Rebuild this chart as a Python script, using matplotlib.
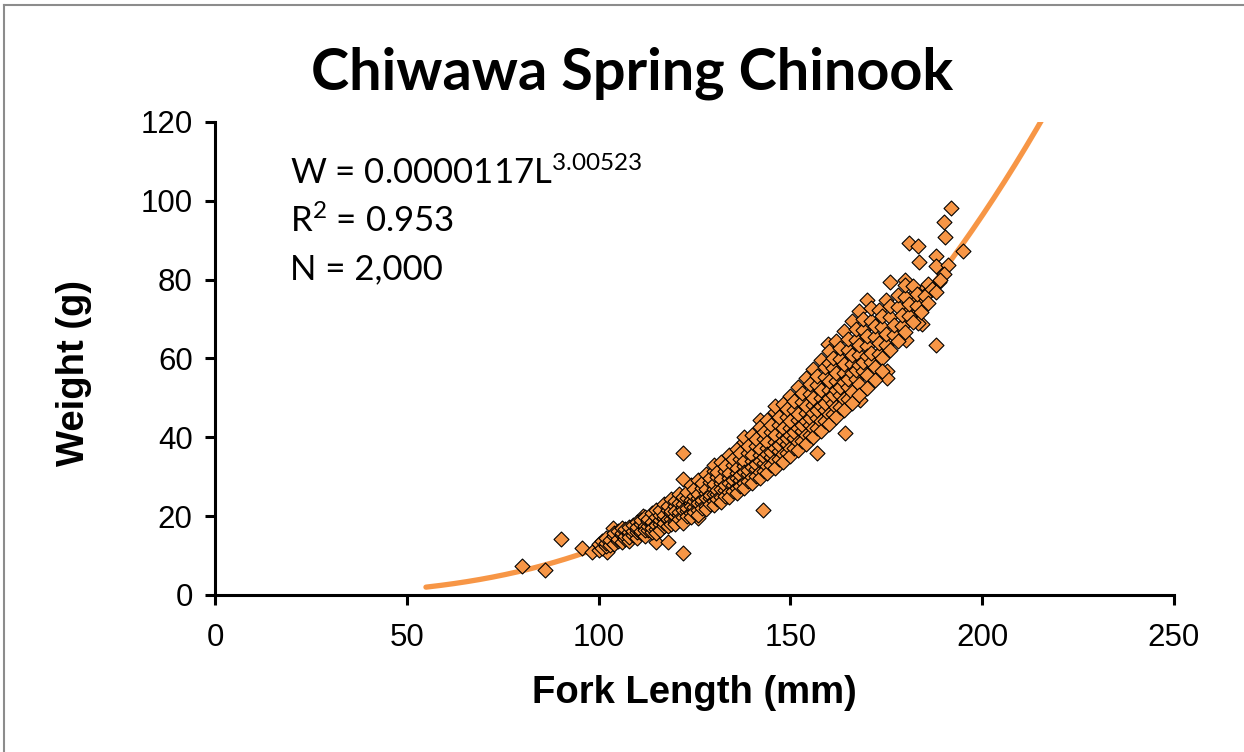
import matplotlib.pyplot as plt
import numpy as np
from matplotlib.lines import Line2D

plt.rcParams['mathtext.fontset'] = 'custom'
plt.rcParams['mathtext.rm'] = 'Lato'
plt.rcParams['mathtext.default'] = 'rm'

# fitted model shown on the chart
coef_a = 0.0000117
coef_b = 3.00523
fit_start = 55
fit_end = 222

# outlying fish
outlier_length = [80.0, 86.0, 90.1, 95.8, 98.2, 102.1, 103.8, 122.1, 122.1, 122.1, 111.7, 115.1,
                  118.2, 126.0, 142.9, 142.1, 159.9, 162.9, 159.9, 175.1, 168.1, 164.2, 156.9,
                  192.0, 190.1, 190.3, 195.1, 181.0, 183.2, 188.0, 183.5, 188.0, 191.2, 190.1,
                  188.8, 176.1, 179.9, 185.4, 185.1, 188.0, 182.0, 184.2, 180.1, 179.9, 182.0,
                  183.3, 175.1]
outlier_weight = [7.4, 6.3, 14.2, 11.8, 11.0, 10.8, 16.9, 35.9, 10.6, 29.3, 20.1, 13.5,
                  13.5, 19.5, 21.6, 44.4, 63.7, 62.3, 58.3, 56.7, 49.5, 41.2, 35.9,
                  98.3, 94.7, 90.7, 87.3, 89.2, 88.5, 86.0, 84.6, 83.5, 83.7, 81.4,
                  79.5, 79.5, 79.9, 78.2, 76.1, 63.4, 70.6, 68.7, 64.7, 73.1, 76.1,
                  68.9, 55.0]

# main band of fish, grouped by fork length (mm) -> weights (g)
band = {
    100: [11.4, 12.9], 101: [11.9, 13.6], 102: [12.3, 13.1, 14.4], 103: [12.8, 14.0],
    104: [13.0, 14.9, 15.6], 105: [13.7, 14.3, 16.2], 106: [13.4, 15.2, 15.8, 16.9],
    107: [14.3, 15.0, 16.7], 108: [13.6, 15.4, 16.1, 17.3, 14.8], 109: [15.1, 16.3, 17.7],
    110: [14.4, 15.9, 16.8, 18.4, 17.2], 111: [15.6, 16.2, 17.9, 18.9],
    112: [15.0, 17.1, 17.6, 19.8, 16.4], 113: [16.6, 17.4, 18.8, 19.3],
    114: [15.9, 18.3, 18.6, 20.9, 17.1], 115: [16.8, 17.7, 19.9, 21.5, 15.7],
    116: [18.1, 18.9, 20.4, 21.6, 16.5], 117: [17.6, 19.6, 20.2, 23.1, 18.3],
    118: [18.9, 19.4, 21.6, 22.7, 17.4], 119: [19.2, 20.9, 21.4, 24.4, 18.0],
    120: [18.6, 20.1, 22.7, 23.9, 17.9, 21.3], 121: [20.3, 21.0, 23.4, 25.6, 19.4],
    122: [19.7, 22.2, 23.0, 24.8, 18.2, 21.5], 123: [21.3, 22.0, 24.6, 26.1, 20.0],
    124: [20.7, 23.3, 24.2, 27.8, 19.8, 22.5], 125: [22.3, 23.9, 25.0, 26.9, 21.0],
    126: [21.6, 24.7, 25.6, 29.1, 20.4, 23.4], 127: [23.4, 24.1, 27.1, 28.3, 22.0],
    128: [22.6, 25.8, 26.8, 30.6, 21.9, 24.6], 129: [24.5, 25.3, 28.6, 29.6, 23.2],
    130: [23.8, 27.0, 28.2, 31.4, 22.8, 25.6, 33.1], 131: [25.5, 26.6, 29.9, 31.2, 24.4],
    132: [24.9, 28.3, 29.4, 33.8, 23.6, 27.0], 133: [26.6, 27.8, 31.5, 32.7, 25.2],
    134: [26.1, 29.7, 30.9, 35.4, 24.8, 28.4], 135: [27.9, 29.1, 32.9, 34.6, 26.4],
    136: [27.2, 31.0, 32.3, 37.1, 25.9, 29.6], 137: [29.2, 30.4, 34.5, 36.0, 27.6],
    138: [28.5, 32.6, 33.9, 38.9, 27.1, 31.2, 40.2], 139: [30.6, 31.8, 36.1, 37.8, 28.9],
    140: [29.9, 34.0, 35.4, 40.7, 28.3, 32.5], 141: [32.0, 33.3, 37.8, 39.5, 30.2],
    142: [31.3, 35.6, 37.0, 42.6, 29.6, 34.1], 143: [33.4, 34.9, 39.6, 41.4, 31.5],
    144: [32.7, 37.2, 38.7, 44.5, 30.9, 35.7], 145: [35.0, 36.4, 41.3, 43.2, 33.0],
    146: [34.2, 38.9, 40.5, 46.5, 32.3, 37.3, 47.9], 147: [36.5, 38.1, 43.2, 45.2, 34.4],
    148: [35.7, 40.7, 42.3, 48.5, 33.8, 39.0], 149: [38.2, 39.7, 45.1, 47.1, 35.9],
    150: [37.3, 42.4, 44.1, 50.6, 35.3, 40.6], 151: [39.8, 41.4, 47.0, 49.2, 37.4],
    152: [38.9, 44.3, 46.0, 52.8, 36.8, 42.4], 153: [41.5, 43.2, 49.0, 51.3, 39.0],
    154: [40.6, 46.1, 48.0, 55.0, 38.4, 44.2], 155: [43.2, 45.0, 51.1, 53.4, 40.7],
    156: [42.3, 48.1, 50.0, 57.3, 40.0, 46.1], 157: [45.0, 46.9, 53.2, 55.6, 42.4],
    158: [44.1, 50.1, 52.1, 59.6, 41.7, 48.0], 159: [46.9, 48.8, 55.3, 57.9, 44.1],
    160: [45.9, 52.1, 54.2, 62.0, 43.4, 50.0, 58.8], 161: [48.8, 50.8, 57.6, 60.2, 45.9],
    162: [47.8, 54.2, 56.4, 64.4, 45.1, 52.0], 163: [50.7, 52.8, 59.9, 62.6, 47.7],
    164: [49.7, 56.4, 58.6, 66.9, 46.9, 54.1], 165: [52.7, 54.9, 62.2, 65.0, 49.6],
    166: [51.6, 58.6, 60.9, 69.5, 48.8, 56.2], 167: [54.8, 57.0, 64.6, 67.5],
    168: [53.6, 60.8, 63.3, 72.1, 50.7, 58.3], 169: [56.9, 59.2, 67.1, 70.1],
    170: [55.7, 63.1, 65.7, 74.8, 52.6, 60.6], 171: [59.0, 61.5, 69.6, 72.7],
    172: [57.8, 65.5, 68.2, 54.6], 173: [61.2, 63.8, 72.2], 174: [60.0, 67.9, 70.7, 56.7],
    175: [63.5, 66.2, 74.9], 176: [62.2, 70.4, 73.3], 177: [65.9, 68.6],
    178: [64.5, 73.0, 76.0], 179: [68.3, 71.1], 180: [66.8, 75.6, 78.7], 181: [70.8, 73.7],
    182: [69.2, 78.3], 183: [73.3, 76.3], 184: [71.7], 185: [75.9], 186: [74.2, 79.0],
    187: [77.5], 188: [76.8], 189: [79.9],
}

orange = '#F79646'

fork_length = outlier_length + [L for L, ws in band.items() for _ in ws]
weight = outlier_weight + [w for ws in band.values() for w in ws]

fig = plt.figure(figsize=(12.44, 7.52), dpi=100)
ax = fig.add_axes([0.1728, 0.2088, 0.7709, 0.629])

# trend line
xs = np.linspace(fit_start, fit_end, 300)
ax.plot(xs, coef_a * xs ** coef_b, color=orange, lw=3.8, solid_capstyle='round', zorder=1)

ax.scatter(fork_length, weight, marker='D', s=58, facecolor=orange, edgecolor='black',
           linewidth=0.8, zorder=2)

ax.set_xlim(0, 250)
ax.set_ylim(0, 120)
ax.set_xticks(range(0, 251, 50))
ax.set_yticks(range(0, 121, 20))
for s in ['top', 'right']:
    ax.spines[s].set_visible(False)
for s in ['left', 'bottom']:
    ax.spines[s].set_linewidth(2.2)
ax.tick_params(direction='out', length=7, width=2.2, labelsize=22.5,
               labelfontfamily='Liberation Sans')
ax.tick_params(axis='x', pad=13)
ax.tick_params(axis='y', pad=9)

ax.set_xlabel('Fork Length (mm)', fontsize=27.5, fontweight='bold',
              family='Liberation Sans', labelpad=16)
ax.set_ylabel('Weight (g)', fontsize=27.5, fontweight='bold',
              family='Liberation Sans', labelpad=22)
ax.yaxis.set_label_coords(-0.128, 0.47)

fig.text(0.508, 0.903, 'Chiwawa Spring Chinook', ha='center', va='center',
         fontsize=41.5, fontweight='bold', family='Lato')

ax.text(0.078, 0.893, r'W = 0.0000117L$^{3.00523}$', transform=ax.transAxes,
        fontsize=25, family='Lato', va='center')
ax.text(0.078, 0.79, r'R$^{2}$ = 0.953', transform=ax.transAxes,
        fontsize=25, family='Lato', va='center')
ax.text(0.078, 0.688, 'N = 2,000', transform=ax.transAxes,
        fontsize=25, family='Lato', va='center')

# chart border (top and left visible)
fig.add_artist(Line2D([0.003, 0.003], [0.0, 0.994], color='#8c8c8c', lw=1.5))
fig.add_artist(Line2D([0.003, 1.0], [0.994, 0.994], color='#8c8c8c', lw=1.5))

fig.savefig('out.png', dpi=100)
